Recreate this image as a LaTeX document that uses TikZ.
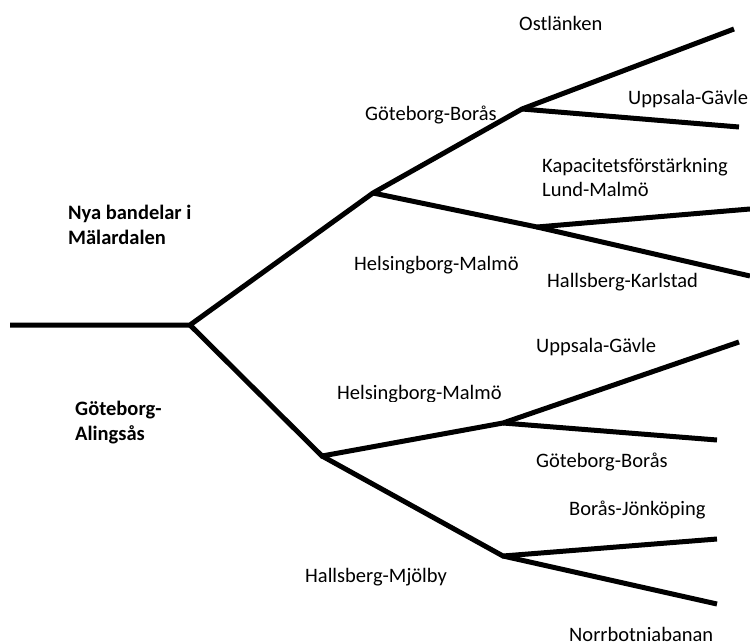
\documentclass[tikz,border=0pt]{standalone}
\usepackage{fontspec}
\setmainfont{Carlito}
\begin{document}
\begin{tikzpicture}[x=1pt,y=-1pt,
  branch/.style={line width=5pt,line join=miter},
  lbl/.style={anchor=base west,inner sep=0pt,font=\fontsize{20.5}{24}\selectfont},
  blbl/.style={lbl,font=\fontsize{20.5}{24}\selectfont\bfseries}]
\useasboundingbox (0,0) rectangle (750,643);
% branch points
\coordinate (start) at (10,325);
\coordinate (root) at (190,325);
\coordinate (up) at (373,193);
\coordinate (lo) at (322,456);
\coordinate (ua) at (522,109);
\coordinate (ub) at (537,227);
\coordinate (ld) at (503,423);
\coordinate (le) at (503,556);
% leaf ends
\coordinate (ua1) at (734,29);
\coordinate (ua2) at (739,127);
\coordinate (ub1) at (750,209);
\coordinate (ub2) at (750,276);
\coordinate (ld1) at (739,342);
\coordinate (ld2) at (717,440);
\coordinate (le1) at (717,539);
\coordinate (le2) at (717,604);
% connectors
\draw[branch] (start) -- (root) -- (up) -- (ua) -- (ua1);
\draw[branch] (ua) -- (ua2);
\draw[branch] (up) -- (ub) -- (ub1);
\draw[branch] (ub) -- (ub2);
\draw[branch] (root) -- (lo) -- (ld) -- (ld1);
\draw[branch] (ld) -- (ld2);
\draw[branch] (lo) -- (le) -- (le1);
\draw[branch] (le) -- (le2);
% labels
\node[blbl] (t1) at (68,219) {Nya bandelar i};
\node[blbl] (t2) at (68,244) {Mälardalen};
\node[blbl] (t3) at (75,415) {Göteborg-};
\node[blbl] (t4) at (75,440) {Alingsås};
\node[lbl] (t5) at (519,30) {Ostlänken};
\node[lbl] (t6) at (628,104) {Uppsala-Gävle};
\node[lbl] (t7) at (365,120) {Göteborg-Borås};
\node[lbl] (t8) at (542,172) {Kapacitetsförstärkning};
\node[lbl] (t9) at (542,196) {Lund-Malmö};
\node[lbl] (t10) at (354,270) {Helsingborg-Malmö};
\node[lbl] (t11) at (547,287) {Hallsberg-Karlstad};
\node[lbl] (t12) at (536,352) {Uppsala-Gävle};
\begin{scope}
\clip (0,0) rectangle (750,401);
\node[lbl] (t13) at (337,399) {Helsingborg-Malmö};
\end{scope}
\node[lbl] (t14) at (536,467) {Göteborg-Borås};
\node[lbl] (t15) at (569,515) {Borås-Jönköping};
\node[lbl] (t16) at (305,582) {Hallsberg-Mjölby};
\node[lbl] (t17) at (569,641) {Norrbotniabanan};
\end{tikzpicture}
\end{document}
